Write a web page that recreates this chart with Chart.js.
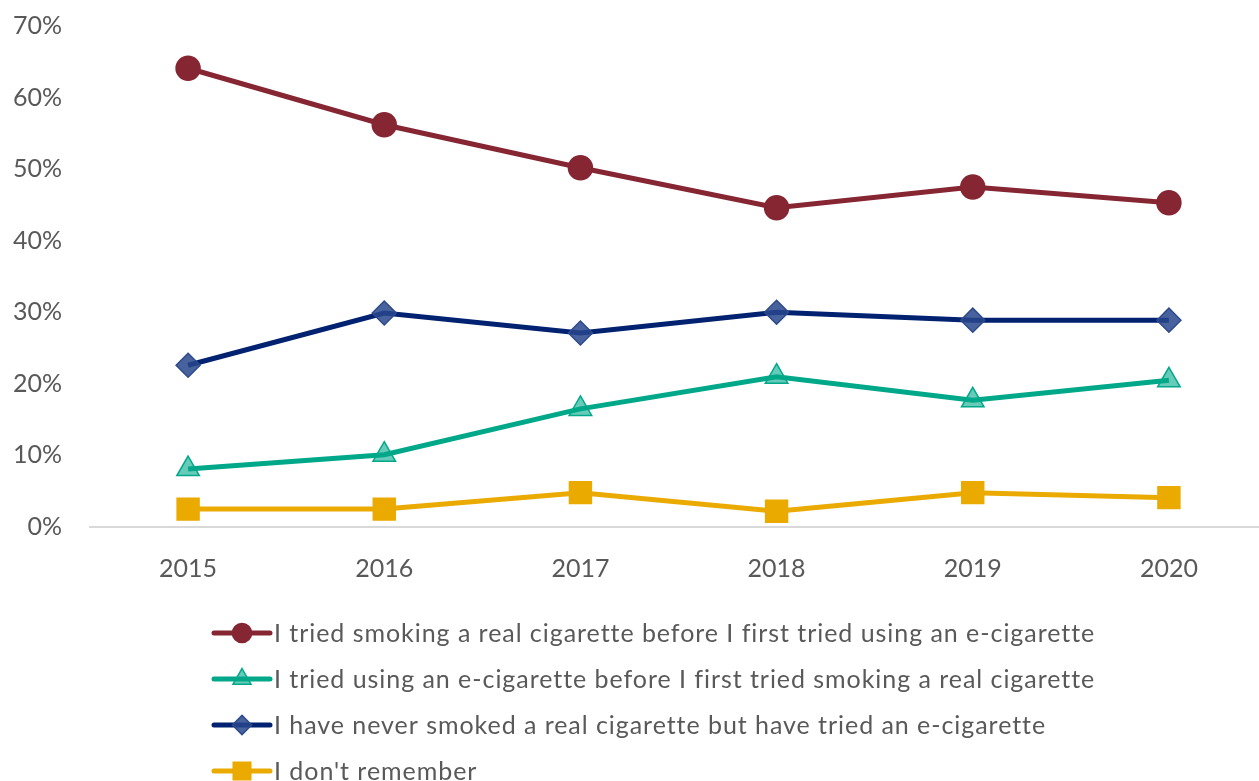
<!DOCTYPE html>
<html>
<head>
<meta charset="utf-8">
<script src="https://cdn.jsdelivr.net/npm/chart.js@4.4.1/dist/chart.umd.min.js"></script>
<style>
  html, body { margin: 0; padding: 0; overflow: hidden; background: #fff; }
  #wrap { width: 1284px; height: 781px; }
</style>
</head>
<body>
<div id="wrap"><canvas id="c" width="1284" height="781"></canvas></div>
<script>
// data (percent)
const years = ['2015', '2016', '2017', '2018', '2019', '2020'];
const smokedFirst = [64.1, 56.2, 50.2, 44.6, 47.5, 45.3];
const vapedFirst = [8.1, 10.1, 16.5, 21.0, 17.7, 20.5];
const neverSmoked = [22.6, 29.9, 27.1, 30.0, 28.9, 28.9];
const dontRemember = [2.5, 2.5, 4.8, 2.2, 4.8, 4.1];
const seriesNames = [
  'I tried smoking a real cigarette before I first tried using an e-cigarette',
  'I tried using an e-cigarette before I first tried smoking a real cigarette',
  'I have never smoked a real cigarette but have tried an e-cigarette',
  "I don't remember"
];
const yMin = 0, yMax = 70, yStep = 10;

const textColor = '#595959';
Chart.defaults.font.family = 'Lato, "Open Sans", sans-serif';
Chart.defaults.font.size = 25;
Chart.defaults.color = textColor;

// legend stacked in one column, like the original
const columnLegend = {
  id: 'columnLegend',
  afterDraw(chart) {
    const ctx = chart.ctx;
    const x0 = 214, x1 = 270, textX = 274, top = 633, gap = 46;
    chart.data.datasets.forEach((ds, i) => {
      const y = top + i * gap;
      ctx.save();
      ctx.strokeStyle = ds.borderColor;
      ctx.lineWidth = 5;
      ctx.lineCap = 'round';
      ctx.beginPath();
      ctx.moveTo(x0, y);
      ctx.lineTo(x1, y);
      ctx.stroke();
      ctx.fillStyle = ds.pointBackgroundColor;
      ctx.strokeStyle = ds.pointBorderColor;
      ctx.lineWidth = 1.5;
      Chart.helpers.drawPoint(ctx, {
        pointStyle: ds.pointStyle,
        radius: ds.pointRadius * 0.8,
        borderWidth: 1.5,
        rotation: 0
      }, (x0 + x1) / 2, y);
      ctx.fillStyle = textColor;
      ctx.font = '25px Lato, "Open Sans", sans-serif';
      ctx.letterSpacing = '0.95px';
      ctx.textBaseline = 'middle';
      ctx.textAlign = 'left';
      ctx.fillText(ds.label, textX, y + 1);
      ctx.restore();
    });
  }
};

const mk = (label, data, line, fill, edge, style, r) => ({
  label: label,
  data: data,
  borderColor: line,
  borderWidth: 5,
  pointStyle: style,
  pointRadius: r,
  pointHoverRadius: r,
  pointBackgroundColor: fill,
  pointBorderColor: edge,
  pointBorderWidth: 1.5,
  tension: 0,
  clip: false
});

new Chart(document.getElementById('c'), {
  type: 'line',
  data: {
    labels: years,
    datasets: [
      mk(seriesNames[0], smokedFirst, '#862633', '#862633', '#862633', 'circle', 12),
      mk(seriesNames[1], vapedFirst, '#00A88A', 'rgba(0,168,138,0.6)', '#00A88A', 'triangle', 13),
      mk(seriesNames[2], neverSmoked, '#002270', 'rgba(40,70,140,0.85)', '#2E4A8C', 'rectRot', 12),
      mk(seriesNames[3], dontRemember, '#EAAA00', '#EAAA00', '#EAAA00', 'rect', 15.5)
    ]
  },
  options: {
    responsive: false,
    animation: false,
    layout: { padding: { top: 26, left: 0, right: 2, bottom: 0 } },
    plugins: {
      legend: { display: false },
      tooltip: { enabled: false }
    },
    scales: {
      x: {
        offset: true,
        grid: { display: false, drawTicks: false },
        border: { display: true, color: '#d9d9d9', width: 2 },
        ticks: { padding: 27, color: textColor },
        afterFit(scale) { scale.height = 254; }
      },
      y: {
        min: yMin,
        max: yMax,
        grid: { display: false, drawTicks: false },
        border: { display: false },
        ticks: {
          stepSize: yStep,
          padding: 28,
          color: textColor,
          callback: v => v + '%'
        },
        afterFit(scale) {
          scale.width = 90;
          scale.paddingTop = 0;
          scale.paddingBottom = 0;
        }
      }
    }
  },
  plugins: [columnLegend]
});
</script>
</body>
</html>
